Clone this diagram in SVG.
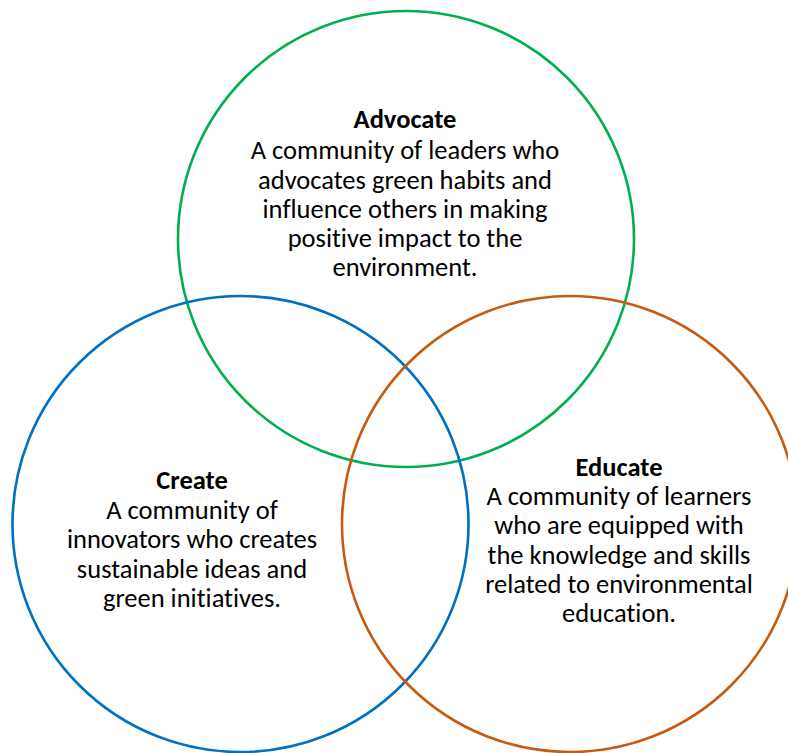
<svg xmlns="http://www.w3.org/2000/svg" width="788" height="753" viewBox="0 0 788 753">
<style>
.c{fill:none;stroke-width:2.6}
text{font-family:Carlito,Lato,"Liberation Sans",sans-serif;font-size:26.5px;fill:#000;text-anchor:middle;font-variant-ligatures:none;font-feature-settings:"liga" 0,"dlig" 0}
.b{font-weight:bold}
</style>
<rect width="788" height="753" fill="#fff"/>
<g id="advocate">
<circle class="c" cx="406" cy="239" r="228" stroke="#00B050"/>
<text x="405" y="128" class="b">Advocate</text>
<text x="405" y="159">A community of leaders who</text>
<text x="405" y="189">advocates green habits and</text>
<text x="405" y="218">influence others in making</text>
<text x="405" y="247">positive impact to the</text>
<text x="405" y="276">environment.</text>
</g>
<g id="create">
<circle class="c" cx="240.5" cy="524" r="228" stroke="#0070C0"/>
<text x="192" y="489" class="b">Create</text>
<text x="192" y="519">A community of</text>
<text x="192" y="548">innovators who creates</text>
<text x="192" y="578">sustainable ideas and</text>
<text x="192" y="607">green initiatives.</text>
</g>
<g id="educate">
<circle class="c" cx="570" cy="524" r="228" stroke="#C55A11"/>
<text x="619" y="476" class="b">Educate</text>
<text x="619" y="505">A community of learners</text>
<text x="619" y="534">who are equipped with</text>
<text x="619" y="564">the knowledge and skills</text>
<text x="619" y="593">related to environmental</text>
<text x="619" y="622">education.</text>
</g>
<g id="connectors"></g>
</svg>
